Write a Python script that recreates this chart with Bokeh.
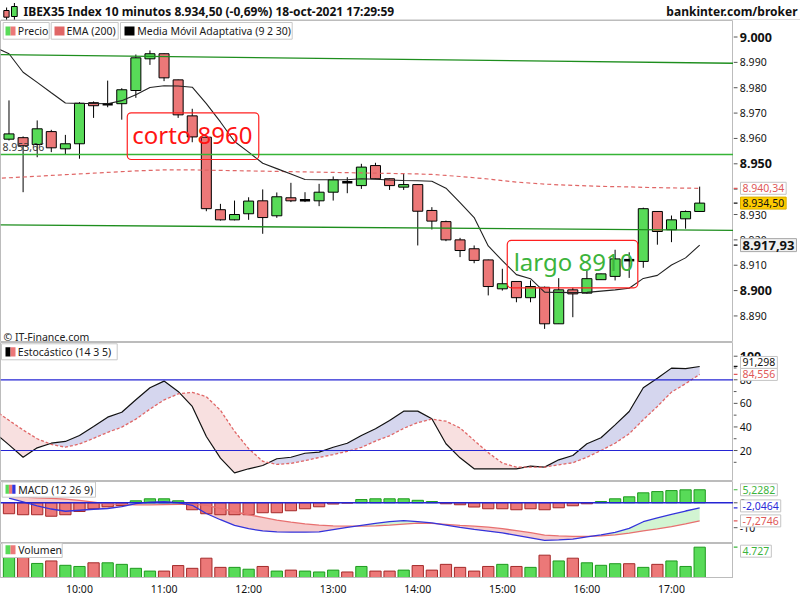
import numpy as np
from bokeh.plotting import figure
from bokeh.layouts import column, row
from bokeh.models import Range1d, LinearAxis, FixedTicker, Label, BoxAnnotation, Span
from bokeh.embed import file_html
from bokeh.resources import INLINE
from bokeh.core.properties import value

# ---------------- data ----------------
times = ["09:00", "09:10", "09:20", "09:30", "09:40", "09:50",
         "10:00", "10:10", "10:20", "10:30", "10:40", "10:50",
         "11:00", "11:10", "11:20", "11:30", "11:40", "11:50",
         "12:00", "12:10", "12:20", "12:30", "12:40", "12:50",
         "13:00", "13:10", "13:20", "13:30", "13:40", "13:50",
         "14:00", "14:10", "14:20", "14:30", "14:40", "14:50",
         "15:00", "15:10", "15:20", "15:30", "15:40", "15:50",
         "16:00", "16:10", "16:20", "16:30", "16:40", "16:50",
         "17:00", "17:10", "17:20"]
hour_labels = ["10:00", "11:00", "12:00", "13:00", "14:00", "15:00", "16:00", "17:00"]
candle_times = times[1:]

open_ = [8959.7, 8960.3, 8957.6, 8962.7, 8955.9, 8957.9, 8974.1, 8973.5, 8973.7, 8978.9,
         8991.4, 8993.4, 8983.1, 8968.9, 8960.5, 8931.9, 8927.9, 8930.3, 8935.4, 8929.5,
         8936.6, 8935.6, 8935.4, 8938.8, 8942.7, 8941.4, 8949.3, 8944.1, 8940.8, 8941.8,
         8931.6, 8927.2, 8920.0, 8916.5, 8912.1, 8900.7, 8903.6, 8897.2, 8901.3, 8886.9,
         8900.3, 8899.0, 8904.3, 8905.6, 8912.0, 8911.5, 8931.2, 8924.0, 8928.3, 8931.2]
high = [8975.0, 8960.8, 8967.1, 8963.4, 8961.4, 8974.3, 8974.6, 8982.8, 8979.8, 8993.1,
        8994.7, 8993.5, 8983.2, 8971.7, 8960.6, 8934.2, 8935.5, 8936.8, 8939.9, 8938.7,
        8942.5, 8938.8, 8942.1, 8945.0, 8944.7, 8950.0, 8950.4, 8944.2, 8946.1, 8941.9,
        8932.9, 8927.6, 8920.8, 8917.8, 8912.2, 8908.6, 8903.7, 8904.0, 8901.6, 8904.9,
        8901.1, 8907.9, 8906.7, 8916.1, 8915.1, 8932.7, 8931.3, 8929.6, 8931.6, 8941.0]
low = [8959.2, 8938.8, 8952.6, 8954.6, 8953.7, 8952.0, 8968.1, 8972.3, 8967.4, 8976.0,
       8989.0, 8982.6, 8968.1, 8958.5, 8931.3, 8927.6, 8927.7, 8927.9, 8922.4, 8928.7,
       8934.9, 8934.9, 8933.3, 8935.5, 8938.4, 8940.1, 8944.0, 8939.7, 8939.7, 8917.8,
       8924.1, 8919.5, 8913.2, 8910.8, 8898.1, 8900.0, 8895.4, 8895.4, 8884.9, 8886.9,
       8889.5, 8898.8, 8904.2, 8904.0, 8905.0, 8909.0, 8918.1, 8919.1, 8924.4, 8931.0]
close = [8961.8, 8957.1, 8963.8, 8956.3, 8957.9, 8973.9, 8972.9, 8973.5, 8979.2, 8991.8,
         8993.4, 8983.9, 8969.3, 8960.6, 8932.3, 8927.9, 8930.0, 8935.3, 8928.8, 8937.0,
         8935.4, 8935.6, 8938.8, 8943.7, 8942.7, 8948.7, 8944.1, 8941.4, 8941.8, 8931.3,
         8927.4, 8920.0, 8915.8, 8911.9, 8901.6, 8902.7, 8897.2, 8901.6, 8886.9, 8900.3,
         8898.7, 8904.7, 8906.6, 8912.5, 8912.0, 8932.3, 8923.3, 8927.9, 8931.2, 8934.5]
volume = [3600, 3300, 2190, 2580, 1900, 1720, 2290, 2290, 2050, 1430,
          1000, 1000, 1860, 1430, 3010, 1580, 1580, 1290, 1720, 1000,
          1150, 1000, 860, 1150, 860, 1720, 1000, 1000, 1150, 1860,
          1150, 2050, 1580, 1000, 1720, 2050, 1720, 1580, 3480, 2580,
          3010, 2290, 1900, 2150, 2150, 1580, 2050, 2580, 1720, 4727]

# indicator series, starting at 09:00
ema200 = [8944.2, 8944.5, 8944.8, 8945.1, 8945.4, 8945.7, 8946.0, 8946.3, 8946.6, 8946.9,
          8947.2, 8947.4, 8947.6, 8947.6, 8947.6, 8947.5, 8947.4, 8947.3, 8947.2, 8947.1,
          8947.0, 8946.9, 8946.8, 8946.7, 8946.6, 8946.5, 8946.4, 8946.3, 8946.2, 8946.1,
          8946.0, 8945.8, 8945.4, 8945.0, 8944.5, 8944.0, 8943.4, 8942.8, 8942.4, 8942.0,
          8941.7, 8941.5, 8941.3, 8941.1, 8941.0, 8940.9, 8940.7, 8940.6, 8940.5, 8940.4,
          8940.34]
ama = [8995.9, 8993.4, 8986.1, 8982.1, 8978.0, 8974.0, 8973.8, 8973.8, 8973.7, 8974.9,
       8977.2, 8980.1, 8980.8, 8980.7, 8980.2, 8973.7, 8966.5, 8958.8, 8954.6, 8950.2,
       8948.1, 8946.0, 8943.8, 8943.7, 8943.7, 8943.7, 8944.1, 8943.9, 8943.6, 8943.4,
       8943.3, 8943.1, 8940.4, 8934.7, 8928.8, 8917.6, 8911.8, 8906.3, 8904.7, 8899.4,
       8899.3, 8899.2, 8899.3, 8899.8, 8900.3, 8900.9, 8904.8, 8906.0, 8910.1, 8912.9,
       8917.93]
stoch_k = [34.8, 24.8, 14.3, 22.3, 26.2, 27.7, 32.8, 40.4, 48.3, 52.5,
           63.1, 73.3, 78.9, 70.1, 57.4, 31.9, 13.5, 1.1, 4.5, 7.3,
           13.0, 14.3, 17.7, 18.6, 22.8, 26.2, 32.8, 38.5, 45.5, 53.4,
           53.4, 46.9, 25.7, 13.8, 4.5, 4.5, 4.5, 4.5, 6.7, 5.9,
           12.1, 15.8, 25.7, 30.8, 41.8, 53.1, 73.3, 81.4, 89.9, 89.4,
           91.298]
stoch_d = [53.9, 45.6, 37.4, 30.0, 25.2, 22.8, 25.5, 30.3, 35.4, 39.8,
           46.6, 55.1, 62.9, 68.0, 69.4, 65.6, 54.2, 36.3, 21.6, 10.9,
           8.2, 9.1, 11.4, 14.1, 16.6, 19.3, 22.6, 28.0, 32.5, 38.8,
           43.7, 46.6, 44.9, 39.1, 28.6, 18.2, 9.3, 6.0, 5.9, 5.9,
           7.9, 9.6, 14.3, 20.0, 26.2, 34.2, 46.1, 57.4, 69.5, 76.7,
           84.556]
# MACD series, starting at 09:10
macd = [1.9, 0.4, -1.2, -2.5, -3.4, -3.0, -2.6, -2.3, -1.5, -0.3,
        0.3, 0.5, 0.1, -1.0, -4.3, -6.8, -9.1, -10.4, -11.3, -11.7,
        -11.8, -11.8, -11.7, -10.8, -9.9, -9.1, -8.3, -7.6, -7.2, -7.6,
        -8.1, -9.0, -9.9, -10.7, -11.4, -12.1, -13.1, -14.1, -15.1, -14.9,
        -14.6, -13.7, -12.9, -11.9, -10.3, -7.6, -6.1, -4.7, -3.3, -2.0464]
signal = [2.6, 2.3, 2.0, 1.8, 1.5, 1.0, 0.3, -0.4, -0.6, -0.8,
          -0.8, -0.7, -0.6, -0.5, -1.0, -2.2, -3.6, -4.8, -5.9, -7.0,
          -7.8, -8.5, -9.0, -9.3, -9.4, -9.4, -9.3, -9.0, -8.6, -8.2,
          -8.3, -8.7, -9.1, -9.4, -9.8, -10.4, -11.2, -12.0, -13.0, -13.3,
          -13.5, -13.5, -13.3, -12.9, -12.2, -11.3, -10.5, -9.6, -8.5, -7.2746]
hist = [-4.4, -4.8, -4.8, -5.4, -4.8, -3.5, -2.4, -1.6, -1.1, 0.8,
        1.6, 1.6, 0.8, -2.8, -4.4, -4.8, -4.8, -4.8, -4.0, -4.0,
        -3.2, -2.4, -1.6, -0.5, -0.1, 1.3, 1.6, 1.6, 1.6, 1.0,
        0.5, -0.4, -0.8, -1.7, -2.4, -2.4, -2.8, -2.4, -2.8, -2.0,
        -1.2, -0.4, 0.5, 1.6, 2.4, 4.0, 4.5, 4.9, 5.2, 5.2282]

# trend lines: (time, price) anchor pairs
trend_res = [("09:00", 8993.05), ("17:20", 8989.8)]
trend_mid = [("09:00", 8953.66), ("17:20", 8953.66)]
trend_sup = [("09:00", 8925.95), ("17:20", 8923.85)]

notes = ["corto 8960", "largo 8910"]
note_time = [14.01, 41.05]
note_price = [8961.6, 8911.5]
note_box = [(9.39, 18.72, 8970.1, 8951.7), (36.35, 45.61, 8919.8, 8901.1)]
note_color = ["#ff1414", "#3cb43c"]

main_ticks = [8890, 8900, 8910, 8920, 8930, 8940, 8950, 8960, 8970, 8980, 8990, 9000]
main_bold = [8900, 8950, 9000]
stoch_ticks = [20, 40, 60, 80, 100]
stoch_minor = [10, 30, 50, 70, 90]
stoch_bold = [100]
macd_ticks = [-10, 0]

title_text = "IBEX35 Index 10 minutos 8.934,50 (-0,69%) 18-oct-2021 17:29:59"
brand_text = "bankinter.com/broker"

# ---------------- styling ----------------
FONT = "Noto Sans"
GREEN = "#58db58"
RED = "#ec7878"
GREEN_EDGE = "#1f9a1f"
RED_EDGE = "#a42a2a"
BLUE = "#2424d4"
GRID = "#bcbcbc"
FS = "10.5px"
LW = 733   # plotting width
RW = 67    # right scale column


def es(v, d):
    s = f"{v:,.{d}f}"
    return s.replace(",", "_").replace(".", ",").replace("_", ".")


def thousands(v):
    return f"{v:,}".replace(",", ".")


xr = Range1d(0.397, 52.40)


def strip_fig(w, h, xrng, yrng, bottom=0):
    p = figure(width=w, height=h, x_range=xrng, y_range=yrng,
               output_backend="svg", toolbar_location=None, title=None,
               x_axis_location=None, y_axis_location=None,
               min_border_left=0, min_border_right=0,
               min_border_top=0, min_border_bottom=bottom)
    p.outline_line_color = None
    p.background_fill_color = "white"
    p.border_fill_color = "white"
    p.xgrid.visible = False
    p.ygrid.visible = False
    return p


def make_fig(h, y0, y1, bottom=0):
    p = strip_fig(LW, h, xr, Range1d(y0, y1), bottom=bottom)
    p.outline_line_color = GRID
    return p


def side_fig(main, bottom=0):
    return strip_fig(RW, main.height, Range1d(0, RW), main.y_range, bottom=bottom)


def side_scale(p, ticks, labels, bold=(), minor=(), bold_size="12.5px"):
    p.segment(x0=[0] * len(ticks), y0=ticks, x1=[4] * len(ticks), y1=ticks,
              line_color="#555555", line_width=1)
    if minor:
        p.segment(x0=[0] * len(minor), y0=minor, x1=[3] * len(minor), y1=minor,
                  line_color="#555555", line_width=1)
    nt = [t for t in ticks if t not in bold]
    nl = [lab for t, lab in zip(ticks, labels) if t not in bold]
    p.text(x=[6.3] * len(nt), y=nt, text=nl, text_font=value(FONT), text_font_size=FS,
           text_color="#111111", text_baseline="middle", text_align="left")
    bt = [t for t in ticks if t in bold]
    bl = [lab for t, lab in zip(ticks, labels) if t in bold]
    if bt:
        p.text(x=[6.3] * len(bt), y=bt, text=bl, text_font=value(FONT),
               text_font_size=bold_size, text_font_style="bold",
               text_color="#111111", text_baseline="middle", text_align="left")


def value_box(p, yv, text, color="#111111", bg="white", border="#c4c4c4",
              style="normal", size=FS, yoff=0, mark="#555555"):
    p.segment(x0=[0], y0=[yv], x1=[4], y1=[yv], line_color=mark, line_width=1.2)
    p.add_layout(Label(x=7, y=yv, y_offset=yoff,
                       text=text, text_font=FONT, text_font_size=size, text_color=color,
                       text_font_style=style, text_align="left", text_baseline="middle",
                       background_fill_color=bg, border_line_color=border, padding=2))


def sbox(p, fb, x0, x1, cy0, cy1, fill, line=None, radius=0):
    p.add_layout(BoxAnnotation(left=x0, right=x1, top=fb - cy0, bottom=fb - cy1,
                               left_units="screen", right_units="screen",
                               top_units="screen", bottom_units="screen",
                               fill_color=fill, fill_alpha=1 if fill else 0,
                               line_color=line, line_alpha=1 if line else 0,
                               line_width=1, border_radius=radius))


def stext(p, fb, x, cy, text, size=FS, color="#1a1a1a", style="normal", align="left"):
    p.add_layout(Label(x=x, y=fb - cy, x_units="screen", y_units="screen", text=text,
                       text_font=FONT, text_font_size=size, text_color=color,
                       text_font_style=style, text_align=align, text_baseline="middle"))


def cross_fill(x, a, b):
    X, A, B = [x[0]], [a[0]], [b[0]]
    for i in range(1, len(x)):
        d0 = a[i - 1] - b[i - 1]
        d1 = a[i] - b[i]
        if d0 * d1 < 0:
            t = d0 / (d0 - d1)
            xc = x[i - 1] + t * (x[i] - x[i - 1])
            yc = a[i - 1] + t * (a[i] - a[i - 1])
            X.append(xc); A.append(yc); B.append(yc)
        X.append(x[i]); A.append(a[i]); B.append(b[i])
    X, A, B = np.array(X), np.array(A), np.array(B)
    return X, A, B, np.maximum(A, B)


x_ind = np.array([times.index(t) for t in times], dtype=float)
x_c = np.array([times.index(t) for t in candle_times], dtype=float)
o = np.array(open_); c = np.array(close); h = np.array(high); l = np.array(low)

# ---------------- header ----------------
hd = strip_fig(800, 20, Range1d(0, 800), Range1d(20, 0))
hd.segment(x0=[6.1, 13.9], y0=[7, 2.5], x1=[6.1, 13.9], y1=[19.5, 19.5],
           line_color="black", line_width=1)
hd.quad(left=[3.3, 11], right=[8.6, 16.7], top=[10, 6], bottom=[16.7, 16],
        fill_color=[RED, GREEN], line_color="black", line_width=1)
hd.text(x=[23], y=[10.5], text=[title_text], text_font=value(FONT), text_font_size="12px",
        text_font_style="bold", text_color="#111111", text_baseline="middle")
hd.text(x=[797], y=[10.5], text=[brand_text], text_font=value(FONT), text_font_size="12px",
        text_font_style="bold", text_color="#111111", text_baseline="middle",
        text_align="right")
hd.segment(x0=[0], y0=[19.5], x1=[800], y1=[19.5], line_color=GRID, line_width=1)

# ---------------- main price panel ----------------
pm = make_fig(322, 8879.53, 9006.51)
FB_M = 342

up = c > o
dn = c < o
dj = c == o
pm.segment(x_c, h, x_c, l, line_color="black", line_width=1)
pm.vbar(x=x_c[up], top=c[up], bottom=o[up], width=0.71,
        fill_color=GREEN, line_color="black", line_width=1)
pm.vbar(x=x_c[dn], top=o[dn], bottom=c[dn], width=0.71,
        fill_color=RED, line_color="black", line_width=1)
pm.segment(x_c[dj] - 0.36, c[dj], x_c[dj] + 0.36, c[dj], line_color="black", line_width=2.5)

pm.line(x_ind, ema200, line_color="#e06666", line_width=1.2, line_dash="4 3")
pm.line(x_ind, ama, line_color="#222222", line_width=1.1)


def trend(pts, color, width):
    (t0, p0), (t1, p1) = pts
    x0, x1 = times.index(t0), times.index(t1)
    slope = (p1 - p0) / (x1 - x0)
    xs = [xr.start, xr.end]
    ys = [p0 + slope * (xx - x0) for xx in xs]
    pm.line(xs, ys, line_color=color, line_width=width)


trend(trend_res, "#1e8e1e", 1.3)
trend(trend_mid, "#36b436", 1.3)
trend(trend_sup, "#1e8e1e", 1.3)

for (bl, br, bt, bb) in note_box:
    pm.add_layout(BoxAnnotation(left=bl, right=br, top=bt, bottom=bb,
                                fill_alpha=0, line_color="#ff2020", line_alpha=1,
                                line_width=1.2, border_radius=4))
pm.text(x=note_time, y=note_price, text=notes, text_color=note_color,
        text_font=value(FONT), text_font_size="24px",
        text_align="center", text_baseline="middle")

pm.add_layout(Label(x=2, y=trend_mid[0][1], x_units="screen", y_units="data", y_offset=8,
                    text=es(trend_mid[0][1], 2), text_font=FONT, text_font_size=FS,
                    text_color="#3a3a3a", text_baseline="middle"))
stext(pm, FB_M, 3, 336, "\u00a9 IT-Finance.com", color="#222222")

# legend row
sbox(pm, FB_M, 2.7, 48.7, 22, 38.7, "white", "#c8c8c8")
sbox(pm, FB_M, 50.7, 117.7, 22, 38.7, "white", "#c8c8c8")
sbox(pm, FB_M, 120, 291.7, 22, 38.7, "white", "#c8c8c8")
sbox(pm, FB_M, 5, 10, 26, 35, GREEN)
sbox(pm, FB_M, 10, 15, 26, 35, RED)
sbox(pm, FB_M, 54, 64, 26, 35, "#e06666")
sbox(pm, FB_M, 124, 134, 26, 35, "black")
stext(pm, FB_M, 17.3, 30.5, "Precio")
stext(pm, FB_M, 66, 30.5, "EMA (200)")
stext(pm, FB_M, 136.7, 30.5, "Media M\u00f3vil Adaptativa (9 2 30)")

pm_r = side_fig(pm)
side_scale(pm_r, main_ticks, [thousands(t) for t in main_ticks], bold=main_bold)
value_box(pm_r, ema200[-1], es(ema200[-1], 2), color="#e05858", mark="#e05858")
value_box(pm_r, close[-1], es(close[-1], 2), color="#111111", bg="#ffcc00",
          border="#d8b000", mark="#111111")
value_box(pm_r, ama[-1], es(ama[-1], 2), color="#111111", bg="#f0f0f0", border="#a8a8a8",
          style="bold", size="13px", mark="#111111")

# ---------------- stochastic panel ----------------
ps = make_fig(139, -6.28, 111.63)
FB_S = 481
k = np.array(stoch_k); d = np.array(stoch_d)
X, A, B, T = cross_fill(x_ind, k, d)
ps.varea(x=X, y1=B, y2=T, fill_color="#d5d6ee", fill_alpha=1)
ps.varea(x=X, y1=A, y2=T, fill_color="#f8e0e0", fill_alpha=1)
ps.add_layout(Span(location=80, dimension="width", line_color=BLUE, line_width=1.2))
ps.add_layout(Span(location=20, dimension="width", line_color=BLUE, line_width=1.2))
ps.line(x_ind, k, line_color="#111111", line_width=1.2)
ps.line(x_ind, d, line_color="#e06666", line_width=1.3, line_dash="3 2")
sbox(ps, FB_S, 1, 116.7, 343.3, 359.3, "white", "#c8c8c8")
sbox(ps, FB_S, 5, 10, 346.7, 356, "black")
sbox(ps, FB_S, 10, 15, 346.7, 356, RED)
stext(ps, FB_S, 17.3, 351.5, "Estoc\u00e1stico (14 3 5)")

ps_r = side_fig(ps)
side_scale(ps_r, stoch_ticks, [str(t) for t in stoch_ticks], bold=stoch_bold, minor=stoch_minor)
value_box(ps_r, stoch_k[-1], es(stoch_k[-1], 3), color="#111111", yoff=4, mark="#111111")
value_box(ps_r, stoch_d[-1], es(stoch_d[-1], 3), color="#e05858", mark="#e05858")

# ---------------- MACD panel ----------------
pc = make_fig(62, -16.35, 8.55)
FB_C = 543
mc = np.array(macd); sg = np.array(signal); hs = np.array(hist)
X, A, B, T = cross_fill(x_c, mc, sg)
pc.varea(x=X, y1=B, y2=T, fill_color="#d2f4d2", fill_alpha=1)
pc.varea(x=X, y1=A, y2=T, fill_color="#f6cccc", fill_alpha=1)
hp = hs >= 0
pc.vbar(x=x_c[hp], top=hs[hp], bottom=0, width=0.8, fill_color=GREEN, line_color=GREEN_EDGE)
pc.vbar(x=x_c[~hp], top=0, bottom=hs[~hp], width=0.8, fill_color=RED, line_color=RED_EDGE)
pc.add_layout(Span(location=0, dimension="width", line_color=BLUE, line_width=1.5))
pc.line(x_c, sg, line_color="#e87070", line_width=1.3)
pc.line(x_c, mc, line_color="#3434dc", line_width=1.3)
sbox(pc, FB_C, 1.7, 95, 481.5, 496.7, "white", "#c8c8c8")
sbox(pc, FB_C, 5, 8.4, 484.3, 493.3, GREEN)
sbox(pc, FB_C, 8.4, 11.7, 484.3, 493.3, RED)
sbox(pc, FB_C, 11.7, 15, 484.3, 493.3, "#3434dc")
stext(pc, FB_C, 17.7, 489, "MACD (12 26 9)")

pc_r = side_fig(pc)
side_scale(pc_r, macd_ticks, [str(t) for t in macd_ticks])
value_box(pc_r, hist[-1], es(hist[-1], 4), color="#3cb43c", mark="#3cb43c")
value_box(pc_r, macd[-1], es(macd[-1], 4), color="#2a2ad8", yoff=2, mark="#2a2ad8")
value_box(pc_r, signal[-1], es(signal[-1], 4), color="#e05858", mark="#e05858")

# ---------------- volume panel ----------------
pv = make_fig(55, 0, 5300, bottom=18)
FB_V = 580
vol = np.array(volume, dtype=float)
prev_c = np.concatenate([[c[0]], c[:-1]])
vup = np.where(c != o, c > o, c >= prev_c)
pv.vbar(x=x_c[vup], top=vol[vup], bottom=0, width=0.8, fill_color=GREEN, line_color=GREEN_EDGE)
pv.vbar(x=x_c[~vup], top=vol[~vup], bottom=0, width=0.8, fill_color=RED, line_color=RED_EDGE)
sbox(pv, FB_V, 1.7, 61.7, 544.3, 560, "white", "#c8c8c8")
sbox(pv, FB_V, 5, 10, 547.7, 556.7, GREEN)
sbox(pv, FB_V, 10, 15, 547.7, 556.7, RED)
stext(pv, FB_V, 17.7, 552, "Volumen")

hour_pos = [times.index(hl) for hl in hour_labels]
bx = LinearAxis(ticker=FixedTicker(ticks=hour_pos),
                major_label_overrides={pos: lab for pos, lab in zip(hour_pos, hour_labels)})
bx.axis_line_color = GRID
bx.major_tick_line_color = None
bx.minor_tick_line_color = None
bx.major_tick_out = 0
bx.major_tick_in = 0
bx.major_label_standoff = 4
bx.major_label_text_font = FONT
bx.major_label_text_font_size = FS
bx.major_label_text_color = "#111111"
pv.add_layout(bx, "below")

pv_r = side_fig(pv, bottom=18)
value_box(pv_r, volume[-1], thousands(volume[-1]), color="#3cb43c", yoff=-4, mark="#3cb43c")

# bottom border strip
ft = strip_fig(800, 2, Range1d(0, 800), Range1d(0, 2))
ft.segment(x0=[0], y0=[1], x1=[800], y1=[1], line_color=GRID, line_width=1)

layout = column(hd, row(pm, pm_r), row(ps, ps_r), row(pc, pc_r), row(pv, pv_r), ft)
open("out.html", "w").write(file_html(layout, INLINE))
